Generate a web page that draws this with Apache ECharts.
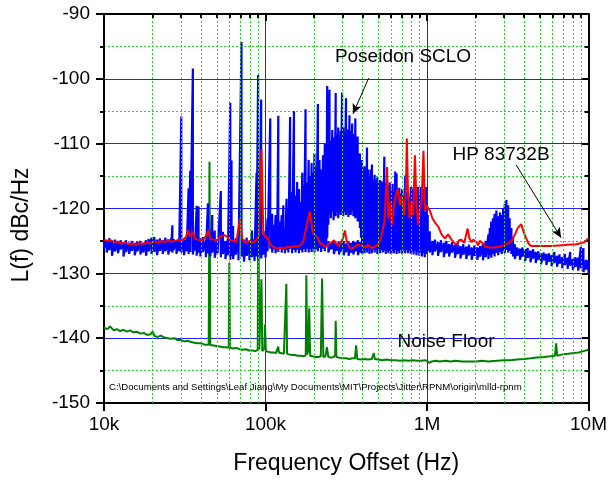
<!DOCTYPE html>
<html><head><meta charset="utf-8">
<script src="https://cdn.jsdelivr.net/npm/echarts@6/dist/echarts.min.js"></script>
<style>html,body{margin:0;padding:0;background:#fff}#c{width:610px;height:480px}</style>
</head><body><div id="c"></div>
<script>
// ---- tick labels / axis values ----
const xTickValues = [1e4, 1e5, 1e6, 1e7];
const xTickLabels = ['10k', '100k', '1M', '10M'];
const xMinorTicks = [2e4,3e4,4e4,5e4,6e4,7e4,8e4,9e4,2e5,3e5,4e5,5e5,6e5,7e5,8e5,9e5,2e6,3e6,4e6,5e6,6e6,7e6,8e6,9e6];
const yMin = -150, yMax = -90, yStep = 10;

// ---- Poseidon SCLO (blue): [kHz, low edge dB, high edge dB] of the trace at each offset ----
const blueBand = [
[10,-126.2,-124.8],[10.4,-126.8,-124.9],[10.8,-126.4,-124.6],[11.2,-127.3,-125.0],[11.7,-126.6,-124.8],
[12.2,-126.9,-125.1],[12.7,-126.3,-124.9],[13.2,-127.4,-125.2],[13.7,-126.7,-124.9],[14.3,-127.0,-125.3],
[14.9,-126.5,-125.0],[15.5,-127.2,-125.3],[16.1,-126.6,-125.1],[16.8,-127.1,-125.0],[17.5,-126.8,-125.3],
[18.2,-127.3,-124.9],[18.9,-126.6,-124.7],[19.7,-127.0,-124.5],[20.5,-126.7,-124.4],[21.3,-127.2,-124.8],
[22.2,-126.5,-124.6],[23.1,-127.0,-124.9],[24.0,-126.6,-124.5],[25.0,-127.1,-124.8],[26.0,-126.6,-124.6],
[26.5,-126.8,-122.6],[27.0,-126.4,-124.7],[28.1,-127.0,-124.9],[29.2,-126.6,-124.6],[30.1,-126.8,-105.8],
[31.3,-127.2,-124.8],[32.5,-126.6,-124.5],[33.4,-127.0,-116.9],[34.2,-126.7,-114.2],[35.5,-127.1,-98.4],
[36.5,-126.5,-124.3],[37.5,-127.3,-119.6],[38.5,-126.8,-119.7],[39.5,-127.4,-124.6],[41.0,-126.7,-124.4],
[42.7,-127.5,-124.9],[44.0,-126.9,-119.2],[45.5,-127.4,-124.5],[46.8,-126.8,-121.0],[48.5,-127.6,-123.4],
[50.5,-126.9,-124.8],[52.9,-127.5,-117.3],[54.5,-127.0,-123.6],[56.5,-127.8,-125.0],[58.5,-127.2,-124.7],
[60.5,-127.9,-103.7],[61.6,-127.3,-112.6],[63.0,-127.8,-122.7],[65.5,-127.1,-124.6],[68.0,-128.0,-124.1],
[71.0,-127.4,-94.3],[73.5,-128.2,-124.8],[76.5,-127.3,-124.5],[79.5,-128.0,-125.0],[82.5,-127.5,-123.4],
[85.5,-128.1,-124.7],[88.0,-127.4,-114.5],[90.0,-127.9,-99.4],[92.0,-127.2,-124.2],[94.0,-127.7,-103.2],
[97.0,-127.1,-124.0],[100,-127.6,-123.5],
[103,-126.6,-121.5],[107,-126.2,-106.1],[110,-126.8,-120.8],[113,-126.3,-122.5],[115.5,-126.9,-121.0],
[118,-126.4,-123.0],[120,-126.7,-105.7],[123,-126.2,-122.0],[126,-126.8,-121.0],[129,-126.3,-119.5],
[132,-126.9,-123.2],[135,-126.4,-118.5],[138.5,-126.8,-120.0],[142,-126.2,-105.9],[146,-126.9,-117.5],
[150,-126.4,-105.0],[153.5,-126.8,-118.0],[157,-126.3,-115.9],[161,-126.9,-117.0],[165,-126.4,-119.0],
[169,-126.8,-114.5],[173,-126.3,-116.5],[177,-126.7,-104.7],[181,-126.2,-116.0],[185,-126.8,-112.5],
[189,-126.3,-115.0],[193,-126.7,-113.0],[197,-126.2,-114.5],[201,-126.8,-111.5],[206,-126.3,-113.5],
[211,-126.6,-103.9],[216,-126.1,-112.5],[221,-126.7,-114.0],[227,-126.2,-111.8],[233,-126.6,-110.0],
[238,-125.8,-112.0],[241,-124.5,-101.1],[245,-122.5,-110.5],[249,-121.0,-101.7],
[254,-121.5,-109.5],[259,-120.5,-107.9],[264,-121.8,-109.0],[268,-120.8,-110.0],[272,-121.2,-102.2],
[277,-120.5,-108.5],[282,-121.5,-107.5],[287,-120.6,-109.0],[292,-121.0,-108.0],[298,-120.4,-102.1],
[303,-121.2,-107.5],[309,-120.5,-108.2],[315,-121.0,-103.0],[320,-120.3,-107.8],[326,-121.3,-108.5],
[331,-120.6,-105.6],[337,-121.0,-108.0],[344,-120.4,-106.9],[350,-121.2,-108.5],[355,-120.8,-109.0],
[360,-121.5,-106.1],[366,-120.9,-110.0],[372,-122.0,-108.9],[378,-121.0,-112.0],[384,-123.0,-111.5],
[390,-124.5,-113.0],
[396,-126.8,-112.5],[403,-126.2,-114.0],[410,-126.9,-113.5],[418,-126.4,-114.5],[425,-126.8,-110.6],
[432,-126.3,-114.0],[440,-127.0,-115.0],[448,-126.4,-114.0],[456,-126.9,-113.2],[465,-126.3,-115.5],
[474,-126.8,-114.8],[483,-126.4,-115.6],[492,-127.0,-115.2],[502,-126.5,-116.0],[512,-126.9,-115.6],
[522,-126.4,-115.8],[533,-126.8,-116.0],[544,-126.5,-112.0],[555,-127.0,-116.2],[566,-126.6,-115.8],
[577,-126.9,-116.5],[588,-126.5,-116.0],[600,-127.0,-117.0],[612,-126.6,-116.2],[624,-126.9,-117.4],
[636,-126.4,-114.3],[648,-127.0,-114.6],[661,-126.5,-117.2],[674,-126.9,-116.8],[688,-126.4,-117.7],
[702,-127.0,-117.0],[716,-126.5,-118.0],[733,-126.9,-114.9],[748,-126.4,-117.5],[763,-126.9,-117.7],
[778,-126.5,-118.2],[794,-127.0,-116.7],[810,-126.6,-117.0],[826,-127.1,-116.7],[843,-126.6,-115.6],
[860,-127.2,-117.5],[877,-126.7,-116.7],[895,-127.3,-118.0],[913,-126.8,-116.7],[931,-127.4,-118.5],
[950,-126.9,-117.0],[969,-127.5,-118.7],[988,-127.0,-116.7],
[1010,-126.5,-121.0],[1040,-126.8,-123.5],[1080,-127.2,-125.0],[1120,-126.6,-124.8],[1170,-127.3,-125.2],
[1220,-126.7,-124.9],[1270,-127.5,-125.3],[1320,-126.9,-125.0],[1370,-127.4,-125.5],[1430,-126.8,-125.2],
[1490,-127.6,-125.6],[1550,-127.0,-125.3],[1610,-127.7,-125.8],[1680,-127.1,-125.5],[1750,-127.8,-125.9],
[1820,-127.2,-125.6],[1890,-127.9,-126.0],[1970,-127.3,-125.7],[2050,-127.9,-126.0],[2130,-127.4,-125.8],
[2220,-128.0,-125.5],[2310,-127.5,-125.0],[2400,-127.8,-124.0],[2450,-127.2,-123.0],[2500,-127.6,-122.0],
[2560,-127.0,-121.5],[2620,-127.4,-120.8],[2690,-126.8,-120.3],[2760,-127.2,-121.2],[2830,-126.7,-120.6],
[2900,-127.0,-121.0],[2960,-126.5,-120.0],[3030,-126.9,-119.3],[3100,-126.4,-118.7],[3180,-126.8,-119.5],
[3250,-126.5,-121.5],[3330,-127.0,-123.0],[3410,-127.4,-124.4],[3500,-127.8,-125.5],[3620,-127.3,-126.0],
[3760,-127.9,-126.2],[3900,-127.4,-126.0],[4050,-128.1,-126.3],[4200,-127.6,-126.1],[4370,-128.3,-126.5],
[4540,-127.7,-126.3],[4710,-128.4,-126.7],[4890,-127.9,-126.6],[5080,-128.6,-126.9],[5280,-128.0,-126.8],
[5480,-128.7,-127.0],[5690,-128.2,-126.9],[5910,-128.9,-127.2],[6140,-128.4,-126.7],[6380,-129.0,-127.3],
[6620,-128.5,-127.1],[6880,-129.2,-127.5],[7140,-128.7,-127.0],[7420,-129.3,-127.6],[7700,-128.8,-126.7],
[8000,-129.5,-127.8],[8310,-129.0,-127.5],[8630,-129.6,-127.6],[8960,-129.2,-125.9],[9300,-129.8,-126.1],
[9660,-129.4,-127.9],[10000,-130.0,-128.0]
];
// lower part of the blue trace underneath the dense spur cluster (250k - 400k)
const blueLowBand = [
[245,-126.8,-125.0],[255,-126.3,-125.2],[265,-127.0,-125.0],[275,-126.5,-125.4],[285,-127.1,-125.1],
[295,-126.6,-125.3],[305,-127.2,-125.0],[316,-126.7,-125.4],[327,-127.3,-125.1],[338,-126.8,-125.3],
[350,-127.1,-125.0],[362,-126.6,-125.2],[374,-127.2,-124.9],[386,-126.8,-125.2],[398,-127.0,-125.0]
];

// ---- HP 83732B (red): offset kHz and dBc/Hz ----
const redKHz = [10,10.5,11,11.6,12.2,12.8,13.5,14.2,15,15.8,16.6,17.5,18.4,19.4,20.4,21.5,22.6,23.8,25,26.3,27.7,29.1,30.6,32.2,33.1,34.2,35.5,36.5,38,40,42,44.3,45.5,47.5,50,52.5,55.7,58,60,63,66,69.5,72,76,80,84,88,91,94.4,97,100,104,108,113,118,124,130,137,144,151,158,165,172,178,184,188,192,196,202,209,217,226,236,246,256,266,275,284,293,302,310,318,326,336,347,358,370,380,395,410,430,455,480,500,520,545,566,575,590,605,620,640,660,680,700,720,740,750,762,780,800,820,842,860,880,900,925,951,970,990,1010,1040,1080,1130,1175,1230,1292,1350,1419,1470,1524,1580,1631,1700,1782,1830,1885,1940,1995,2030,2073,2120,2173,2230,2280,2450,2628,2900,3173,3330,3488,3650,3831,3950,4113,4250,4413,5000,5866,6600,7431,8400,9420,10000];
const redDB  = [-124.8,-125.0,-124.9,-125.2,-125.1,-125.4,-125.3,-125.5,-125.4,-125.6,-125.3,-125.5,-125.2,-125.4,-125.1,-125.3,-125.0,-125.2,-124.9,-125.1,-125.0,-124.8,-124.9,-124.4,-123.3,-124.3,-123.6,-124.6,-124.8,-124.9,-124.6,-123.4,-124.7,-124.8,-124.9,-124.3,-124.1,-124.4,-124.8,-125.0,-125.2,-121.5,-124.9,-125.3,-125.0,-125.3,-124.8,-124.2,-110.9,-124.0,-124.3,-124.8,-125.7,-126.0,-126.2,-126.0,-126.2,-125.9,-126.0,-125.8,-125.9,-125.6,-125.0,-123.1,-121.5,-120.5,-122.0,-123.8,-124.1,-124.4,-125.3,-125.6,-125.9,-125.5,-125.2,-124.9,-125.5,-125.8,-125.2,-124.6,-123.4,-125.0,-125.7,-126.2,-126.1,-125.9,-125.6,-125.9,-125.7,-126.0,-125.6,-126.1,-125.8,-125.5,-124.5,-122.0,-113.6,-121.5,-119.0,-122.5,-120.0,-118.0,-117.0,-119.5,-118.0,-121.0,-117.0,-109.2,-117.5,-121.5,-119.0,-121.0,-111.8,-119.5,-122.5,-120.0,-119.0,-111.1,-120.5,-119.5,-119.7,-120.3,-121.5,-122.3,-122.8,-124.0,-124.6,-124.0,-124.8,-125.3,-125.6,-124.9,-124.8,-125.3,-123.1,-124.6,-125.2,-124.8,-124.5,-125.3,-125.7,-125.0,-124.8,-125.4,-125.9,-126.0,-126.0,-125.8,-125.4,-125.0,-124.1,-123.0,-122.4,-123.5,-124.6,-125.4,-125.8,-125.8,-125.8,-125.7,-125.6,-125.5,-125.2,-124.6];

// ---- Noise floor (green): offset kHz and dBc/Hz ----
const greenKHz = [10,10.5,10.9,11.5,12,12.6,13.2,13.8,14.5,15.2,16,16.8,17.6,18.5,19.4,20,20.6,21.5,22.5,23.6,24.8,26,27.3,28.6,30,31.5,33,34.6,36.3,38,40,42,44.5,45,45.5,47,49.5,52,54.5,57,59.2,59.7,60.2,63,66,69,72,75.5,79,83,86.5,89.5,90.3,91.5,93.5,94.4,95.5,97,98.5,99.3,100.5,104,108,112,116,119,120,121,125,130,133.5,134.6,136,140,146,152,158,165,172,177.5,179,181,184,186.5,189,195,203,212,220,224,228,235,240,245,255,265,270,272,275,285,300,315,330,345,358,364,370,390,410,430,455,462,468,475,500,530,560,600,640,680,720,770,820,870,920,970,1000,1030,1070,1130,1200,1300,1400,1500,1650,1800,2000,2200,2400,2700,3000,3300,3600,4000,4400,4800,5300,5800,6200,6300,6400,6900,7500,8100,8700,9300,10000];
const greenDB  = [-138.4,-138.6,-138.2,-138.8,-138.6,-138.9,-138.7,-139.0,-138.8,-139.1,-139.0,-139.3,-139.2,-139.5,-139.4,-139.0,-139.7,-139.8,-139.6,-139.9,-140.0,-140.1,-140.0,-140.3,-140.3,-140.5,-140.4,-140.6,-140.7,-140.8,-140.8,-141.0,-141.0,-112.8,-141.1,-141.1,-141.2,-141.3,-141.4,-141.4,-141.5,-128.4,-141.5,-141.6,-141.5,-141.7,-141.8,-141.7,-141.9,-141.9,-142.0,-141.8,-119.8,-141.8,-141.5,-130.9,-142.0,-142.0,-141.5,-137.9,-142.0,-142.1,-142.2,-142.2,-142.3,-142.0,-141.3,-142.2,-142.3,-142.4,-142.2,-131.6,-142.4,-142.5,-142.6,-142.6,-142.7,-142.7,-142.8,-142.6,-130.3,-142.5,-142.0,-135.4,-142.7,-142.8,-142.9,-142.9,-142.8,-130.8,-142.9,-142.8,-141.4,-142.9,-143.0,-142.9,-142.5,-137.3,-142.9,-143.0,-143.1,-143.1,-143.2,-143.1,-143.1,-141.1,-143.2,-143.3,-143.2,-143.3,-143.2,-143.0,-142.3,-143.2,-143.3,-143.4,-143.3,-143.4,-143.4,-143.5,-143.4,-143.5,-143.4,-143.5,-143.5,-143.4,-143.5,-143.8,-143.6,-143.5,-143.6,-143.5,-143.6,-143.5,-143.6,-143.6,-143.6,-143.5,-143.6,-143.5,-143.4,-143.4,-143.3,-143.2,-143.1,-143.0,-142.9,-142.8,-142.7,-140.8,-142.7,-142.5,-142.4,-142.3,-142.2,-142.0,-141.8];

// ---- annotations (text, arrow start/end in kHz / dB) ----
const noteTexts = ['Poseidon SCLO', 'HP 83732B', 'Noise Floor'];
const arrowPoseidon = [[435, -99.9], [348, -105.4]];
const arrowHP = [[3570, -113.3], [6760, -124.5]];
const pathText = 'C:\\Documents and Settings\\Leaf Jiang\\My Documents\\MIT\\Projects\\Jitter\\RPNM\\origin\\mlld-rpnm';

// ---- build series data ----
function bandToLine(band) {
  const out = [];
  band.forEach(b => { out.push([b[0] * 1000, b[2]]); out.push([b[0] * 1000, b[1]]); });
  return out;
}
const blueData = bandToLine(blueBand);
const blueLowData = bandToLine(blueLowBand);
const redData = redKHz.map((k, i) => [k * 1000, redDB[i]]);
const greenData = greenKHz.map((k, i) => [k * 1000, greenDB[i]]);

const FONT = 'Liberation Sans, Arial, sans-serif';
const chart = echarts.init(document.getElementById('c'), null, {renderer: 'canvas'});

const frameAxisLine = {show: true, onZero: false, lineStyle: {color: '#000', width: 2}};
const xLabelMap = {};
xTickValues.forEach((v, i) => { xLabelMap[v] = xTickLabels[i]; });

chart.setOption({
  animation: false,
  backgroundColor: '#fff',
  grid: {left: 104, top: 14, right: 19, bottom: 77, containLabel: false},
  xAxis: [{
    type: 'log', logBase: 10, min: 1e4, max: 1e7, position: 'bottom',
    axisLine: frameAxisLine,
    axisTick: {show: true, inside: false, length: 8, lineStyle: {color: '#000', width: 2}},
    axisLabel: {show: true, margin: 12, color: '#000', fontSize: 19, fontFamily: FONT,
      formatter: v => xLabelMap[Math.round(v)] || ''},
    splitLine: {show: true, lineStyle: {color: '#1f1fff', width: 1}},
    name: 'Frequency Offset (Hz)', nameLocation: 'middle', nameGap: 49,
    nameTextStyle: {color: '#000', fontSize: 23, fontFamily: FONT}
  }, {
    type: 'log', logBase: 10, min: 1e4, max: 1e7, position: 'top',
    axisLine: frameAxisLine,
    axisTick: {show: true, inside: true, length: 7, lineStyle: {color: '#000', width: 2}},
    axisLabel: {show: false}, splitLine: {show: false}
  }],
  yAxis: [{
    type: 'value', min: yMin, max: yMax, interval: yStep, position: 'left',
    axisLine: frameAxisLine,
    axisTick: {show: true, inside: false, length: 8, lineStyle: {color: '#000', width: 2}},
    minorTick: {show: true, splitNumber: 2, length: 4, lineStyle: {color: '#000', width: 2}},
    axisLabel: {show: true, margin: 14, color: '#000', fontSize: 19, fontFamily: FONT},
    splitLine: {show: true, lineStyle: {color: '#1f1fff', width: 1}},
    minorSplitLine: {show: true, lineStyle: {color: '#22dd22', width: 1, type: [2, 2]}}
  }, {
    type: 'value', min: yMin, max: yMax, interval: yStep, position: 'right',
    axisLine: frameAxisLine,
    axisTick: {show: true, inside: true, length: 7, lineStyle: {color: '#000', width: 2}},
    minorTick: {show: true, splitNumber: 2, length: 4, lineStyle: {color: '#000', width: 2}},
    axisLabel: {show: false}, splitLine: {show: false}
  }],
  graphic: [
    {type: 'text', x: 22, y: 225, rotation: Math.PI / 2,
     style: {text: 'L(f) dBc/Hz', fill: '#000', font: '23px ' + FONT, textAlign: 'center', textVerticalAlign: 'middle'}},
    {type: 'text', x: 403, y: 57, style: {text: noteTexts[0], fill: '#000', font: '19px ' + FONT, textAlign: 'center', textVerticalAlign: 'middle'}, z: 100},
    {type: 'text', x: 501, y: 155, style: {text: noteTexts[1], fill: '#000', font: '19px ' + FONT, textAlign: 'center', textVerticalAlign: 'middle'}, z: 100},
    {type: 'text', x: 446, y: 342, style: {text: noteTexts[2], fill: '#000', font: '19px ' + FONT, textAlign: 'center', textVerticalAlign: 'middle'}, z: 100},
    {type: 'text', x: 109, y: 387, style: {text: pathText, fill: '#000', font: '9.6px ' + FONT, textAlign: 'left', textVerticalAlign: 'middle'}, z: 100}
  ],
  series: [
    { // minor grid lines
      type: 'line', data: [[1e4, -200]], symbol: 'none', z: 1, silent: true,
      lineStyle: {opacity: 0},
      markLine: {
        silent: true, symbol: ['none', 'none'], label: {show: false}, animation: false,
        data: xMinorTicks.map(v => ({xAxis: v, lineStyle: {color: '#22dd22', width: 1, type: [2, 2]}}))
      }
    },
    { // minor ticks on the top frame
      type: 'line', data: [[1e4, -200]], symbol: 'none', z: 5, silent: true,
      lineStyle: {opacity: 0},
      markLine: {
        silent: true, symbol: ['none', 'none'], label: {show: false}, animation: false,
        lineStyle: {color: '#000', width: 2, type: 'solid'},
        data: xMinorTicks.map(v => [{coord: [v, yMax]}, {coord: [v, yMax - 0.6]}])
      }
    },
    {
      name: 'Noise Floor', type: 'line', data: greenData, symbol: 'none', z: 2,
      lineStyle: {color: '#008000', width: 2}, clip: true
    },
    {
      name: 'Poseidon SCLO', type: 'line', data: blueData, symbol: 'none', z: 3,
      lineStyle: {color: '#0000ff', width: 2.2}, clip: true
    },
    {
      name: 'Poseidon SCLO low', type: 'line', data: blueLowData, symbol: 'none', z: 3,
      lineStyle: {color: '#0000ff', width: 2.2}, clip: true
    },
    {
      name: 'HP 83732B', type: 'line', data: redData, symbol: 'none', z: 4,
      lineStyle: {color: '#ff0000', width: 2}, clip: true,
      markLine: {
        silent: true, animation: false, symbol: ['none', 'arrow'], symbolSize: [7, 10],
        label: {show: false}, lineStyle: {color: '#000', width: 1, type: 'solid'},
        data: [
          [{coord: [arrowPoseidon[0][0] * 1000, arrowPoseidon[0][1]]}, {coord: [arrowPoseidon[1][0] * 1000, arrowPoseidon[1][1]]}],
          [{coord: [arrowHP[0][0] * 1000, arrowHP[0][1]]}, {coord: [arrowHP[1][0] * 1000, arrowHP[1][1]]}]
        ]
      }
    }
  ]
});
</script>
</body></html>
